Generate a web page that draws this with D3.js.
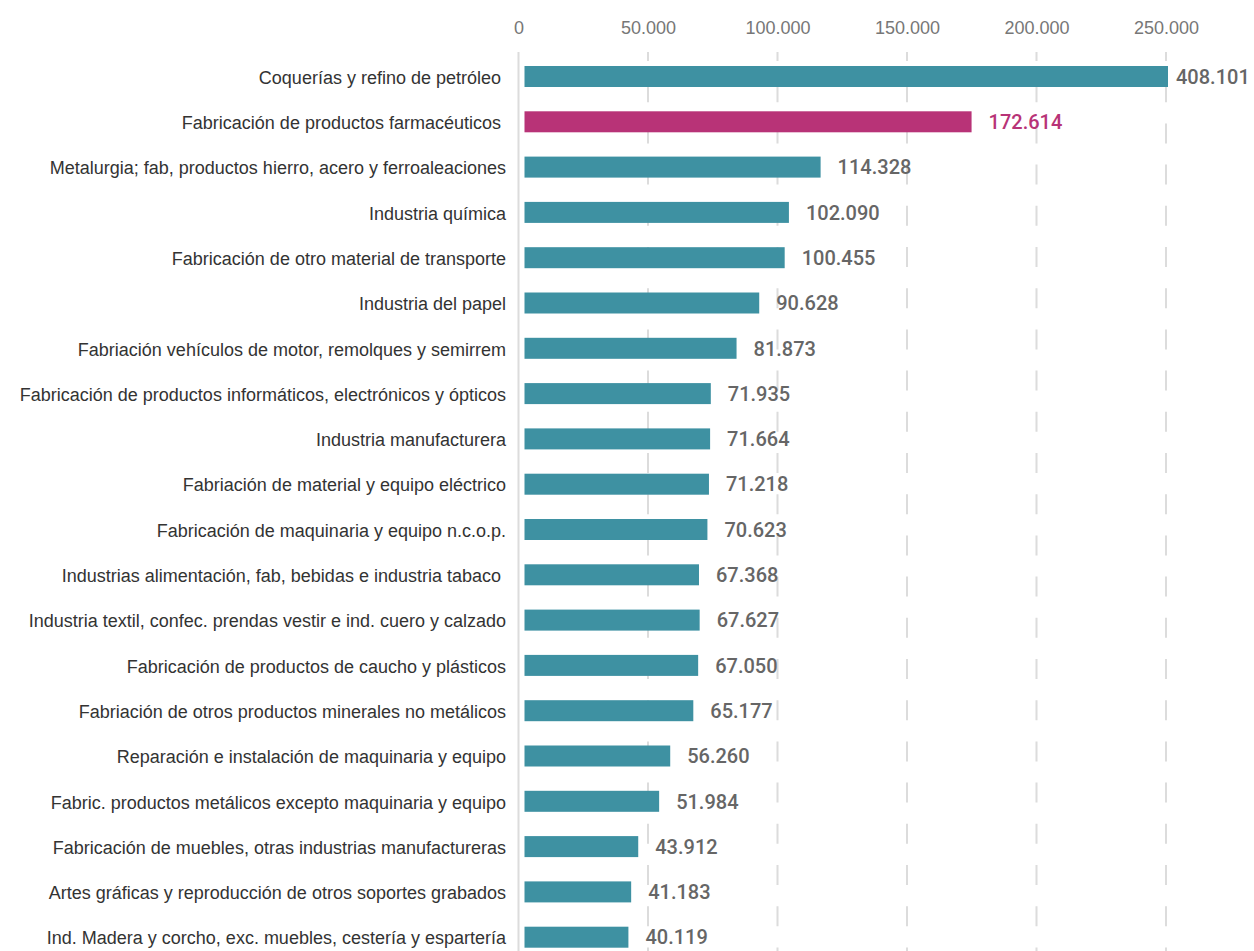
<!DOCTYPE html>
<html>
<head>
<meta charset="utf-8">
<script src="https://cdn.jsdelivr.net/npm/d3@7"></script>
<style>
  body { margin: 0; background: #fff; }
  svg { display: block; }
  .cat { font-family: "Liberation Sans", Arial, sans-serif; font-size: 18px; fill: #333; white-space: pre; }
  .val { font-family: Roboto, "Liberation Sans", sans-serif; font-size: 20px; font-weight: 500; fill: #666; }
  .tick text { font-family: "Liberation Sans", Arial, sans-serif; font-size: 18px; fill: #777; }
</style>
</head>
<body>
<svg width="1254" height="951"></svg>
<script>
var width = 1254;
var height = 951;

// data
var categories = [
  "Coquerías y refino de petróleo ",
  "Fabricación de productos farmacéuticos ",
  "Metalurgia; fab, productos hierro, acero y ferroaleaciones",
  "Industria química",
  "Fabricación de otro material de transporte",
  "Industria del papel",
  "Fabriación vehículos de motor, remolques y semirrem",
  "Fabricación de productos informáticos, electrónicos y ópticos",
  "Industria manufacturera",
  "Fabriación de material y equipo eléctrico",
  "Fabricación de maquinaria y equipo n.c.o.p.",
  "Industrias alimentación, fab, bebidas e industria tabaco ",
  "Industria textil, confec. prendas vestir e ind. cuero y calzado",
  "Fabricación de productos de caucho y plásticos",
  "Fabriación de otros productos minerales no metálicos",
  "Reparación e instalación de maquinaria y equipo",
  "Fabric. productos metálicos excepto maquinaria y equipo",
  "Fabricación de muebles, otras industrias manufactureras",
  "Artes gráficas y reproducción de otros soportes grabados",
  "Ind. Madera y corcho, exc. muebles, cestería y espartería"
];
var values = [408101, 172614, 114328, 102090, 100455, 90628, 81873, 71935, 71664, 71218,
              70623, 67368, 67627, 67050, 65177, 56260, 51984, 43912, 41183, 40119];
var highlight = "Fabricación de productos farmacéuticos ";
var tickValues = [0, 50000, 100000, 150000, 200000, 250000];
var xMax = 250000;

var rows = categories.map(function(c, i) { return {name: c, value: values[i]}; });

var fmt = function(v) {
  return d3.format(",")(v).replace(/,/g, ".");
};

var svg = d3.select("svg");

var x = d3.scaleLinear().domain([0, xMax]).range([518.5, 1166]);

var step = 45.3, barH = 21;
var pad = 1 - barH / step;
var top0 = 66 - step * pad / 2;
var y = d3.scaleBand()
  .domain(categories)
  .range([top0, top0 + step * categories.length])
  .paddingInner(pad)
  .paddingOuter(pad / 2);

// grid
svg.append("g").selectAll("line")
  .data(tickValues.slice(1))
  .enter().append("line")
  .attr("x1", function(d) { return x(d); })
  .attr("x2", function(d) { return x(d); })
  .attr("y1", 52)
  .attr("y2", height)
  .attr("stroke", "#dcdcdc")
  .attr("stroke-width", 2)
  .attr("stroke-dasharray", "20 21.2")
  .attr("stroke-dashoffset", 11);

svg.append("line")
  .attr("x1", x(0)).attr("x2", x(0))
  .attr("y1", 52).attr("y2", height)
  .attr("stroke", "#dcdcdc")
  .attr("stroke-width", 2);

// top axis labels
var axis = d3.axisTop(x)
  .tickValues(tickValues)
  .tickSize(0)
  .tickPadding(0)
  .tickFormat(function(d) { return d === 0 ? "0" : fmt(d); });

svg.append("g")
  .attr("transform", "translate(0,34)")
  .call(axis)
  .call(function(g) { g.select(".domain").remove(); })
  .selectAll("text").attr("dy", 0);

// bars
var barX = x(0) + 6;
var barEnd = function(d) {
  return Math.min(barX + x(d.value) - x(0), x(xMax) + 2);
};

svg.append("g").selectAll("rect")
  .data(rows)
  .enter().append("rect")
  .attr("x", barX)
  .attr("y", function(d) { return y(d.name); })
  .attr("width", function(d) { return barEnd(d) - barX; })
  .attr("height", y.bandwidth())
  .attr("fill", function(d) { return d.name === highlight ? "#b83377" : "#3e91a2"; });

// value labels
svg.append("g").selectAll("text")
  .data(rows)
  .enter().append("text")
  .attr("class", "val")
  .attr("x", function(d) { return barEnd(d) + (d.value > xMax ? 8 : 17); })
  .attr("y", function(d) { return y(d.name) + y.bandwidth() / 2; })
  .attr("dy", "0.36em")
  .style("fill", function(d) { return d.name === highlight ? "#b83377" : null; })
  .text(function(d) { return fmt(d.value); });

// category labels
svg.append("g").selectAll("text")
  .data(rows)
  .enter().append("text")
  .attr("class", "cat")
  .attr("x", 506)
  .attr("y", function(d) { return y(d.name) + y.bandwidth() / 2; })
  .attr("dy", "0.4em")
  .attr("text-anchor", "end")
  .text(function(d) { return d.name; });
</script>
</body>
</html>
